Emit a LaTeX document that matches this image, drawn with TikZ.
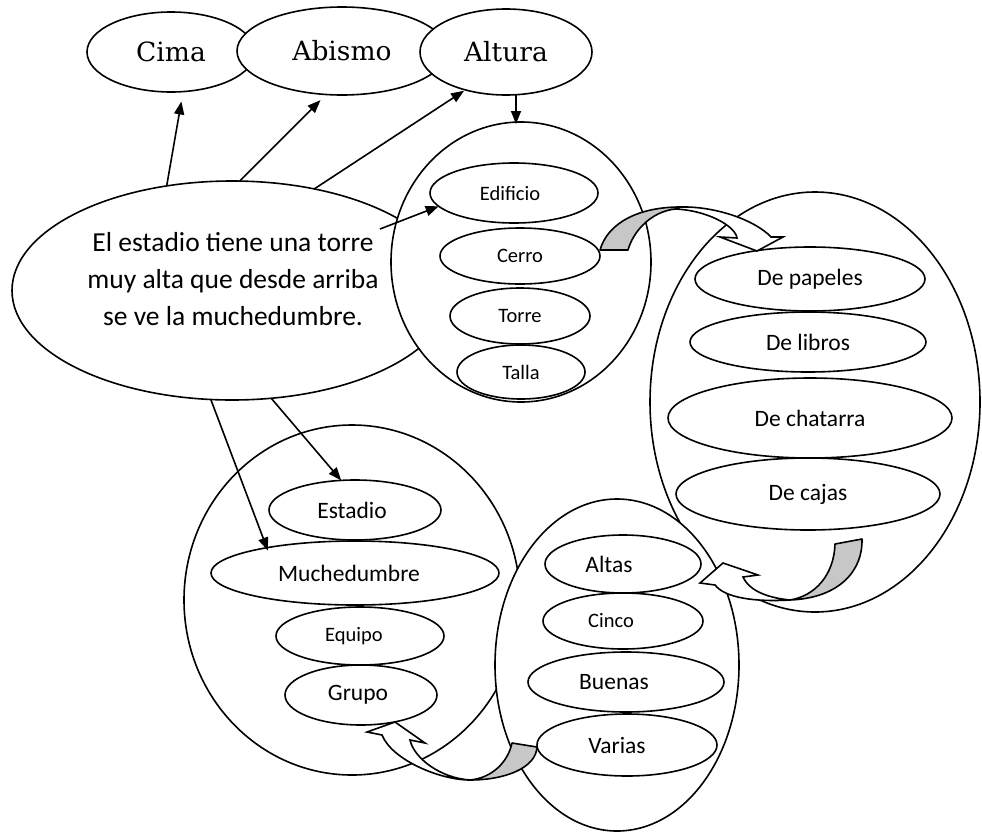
\documentclass[tikz,border=0pt]{standalone}
\usepackage{fontspec}
\setmainfont{Carlito}
\newfontfamily\titlefont{DejaVu Serif}
\usetikzlibrary{shapes.geometric,arrows.meta}
% shift a label to the left inside its oval by #1
\newcommand{\leftby}[1]{\hspace*{-2\dimexpr#1\relax}}
\begin{document}
\begin{tikzpicture}[x=1pt,y=-1pt,
  every node/.style={inner sep=0pt,outer sep=0pt},
  oval/.style={ellipse,draw,fill=white,line width=1.6pt},
  word/.style={oval,font=\titlefont\fontsize{26.5}{30}\selectfont},
  sm/.style={oval,font=\fontsize{20.5}{24}\selectfont},
  md/.style={oval,font=\fontsize{23.5}{27}\selectfont},
  sentence/.style={oval},
  sentencetext/.style={align=center,font=\fontsize{27.5}{36.7}\selectfont},
  group/.style={ellipse,draw,fill=white,line width=1.6pt},
  link/.style={-{Triangle[length=13pt,width=10pt]},line width=1.6pt},
  backface/.style={fill=black!22,draw,line width=1.6pt,line join=round},
  frontface/.style={fill=white,draw,line width=1.6pt,line join=miter}]
\useasboundingbox (0,0) rectangle (982,833);

% words at the top
\node[word,minimum width=168pt,minimum height=80pt] (cima) at (171,52) {Cima};
\node[word,minimum width=210pt,minimum height=88pt] (abismo) at (342,51) {Abismo};
\node[word,minimum width=172pt,minimum height=86pt] (altura) at (506,52) {Altura};

% the sentence
\node[sentence,minimum width=440pt,minimum height=219pt] (frase) at (232,290.5) {};
\node[sentencetext] (frasetexto) at (233,279)
  {El estadio tiene una torre\\muy alta que desde arriba\\se ve la muchedumbre.};

% group 1
\node[group,minimum width=260pt,minimum height=280pt] (g1) at (521,262) {};
\node[sm,minimum width=168pt,minimum height=60pt] (edificio) at (514,193) {\leftby{4pt}Edificio};
\node[sm,minimum width=160pt,minimum height=56pt] (cerro) at (520,256) {Cerro};
\node[sm,minimum width=140pt,minimum height=56pt] (torre) at (520,316) {Torre};
\node[sm,minimum width=128pt,minimum height=54pt] (talla) at (521,372) {Talla};

% group 2
\node[group,minimum width=330pt,minimum height=420pt] (g2) at (815,402) {};
\node[md,minimum width=230pt,minimum height=64pt] (papeles) at (810,279) {De papeles};
\node[md,minimum width=236pt,minimum height=60pt] (libros) at (808,342) {De libros};
\node[md,minimum width=284pt,minimum height=80pt] (chatarra) at (810,418) {De chatarra};
\node[md,minimum width=264pt,minimum height=72pt] (cajas) at (808,494) {De cajas};

% group 3
\node[group,minimum width=336pt,minimum height=350pt] (g3) at (352,600) {};
\node[md,minimum width=172pt,minimum height=60pt] (estadio) at (355,510) {\leftby{3pt}Estadio};
\node[md,minimum width=288pt,minimum height=64pt] (muchedumbre) at (355,573) {\leftby{6pt}Muchedumbre};
\node[sm,minimum width=168pt,minimum height=58pt] (equipo) at (360,636) {\leftby{6pt}Equipo};
\node[md,minimum width=152pt,minimum height=60pt] (grupo) at (361,695) {\leftby{3pt}Grupo};

% group 4
\node[group,minimum width=244pt,minimum height=332pt] (g4) at (617,665) {};
\node[md,minimum width=156pt,minimum height=58pt] (altas) at (623,564) {\leftby{14pt}Altas};
\node[sm,minimum width=160pt,minimum height=56pt] (cinco) at (623,621) {\leftby{12pt}Cinco};
\node[md,minimum width=196pt,minimum height=60pt] (buenas) at (626,682) {\leftby{12pt}Buenas};
\node[md,minimum width=180pt,minimum height=62pt] (varias) at (627,745) {\leftby{10pt}Varias};

% straight links
\coordinate (inicio) at (380,229);
\draw[link,shorten >=10pt] (frase.122) -- (cima.-73);
\draw[link,shorten >=8pt] (frase.86) -- (abismo.-110);
\draw[link,shorten >=1.5pt] (frase.51) -- (altura.-137);
\draw[link] ([xshift=10pt]altura.south) -- ([xshift=10pt,yshift=-2pt]altura.south |- g1.north);
\draw[link] (inicio) -- (edificio.190);
\draw[link] (frase.290) -- (estadio.115);
\draw[link,shorten >=-3pt] (frase.259.6) -- (muchedumbre.164);

% curved block arrows
\draw[frontface] (680,207) .. controls (715,206) and (755,220) .. (771,237)
  -- (783,237) -- (757,251) -- (720,237) -- (737,238)
  .. controls (735,225) and (705,210) .. (675,209) -- cycle;
\draw[backface] (600,250) -- (628,250) .. controls (633,232) and (650,212) .. (675,209)
  -- (680,207) .. controls (640,207) and (608,222) .. (600,250) -- cycle;

\draw[frontface] (790,600) .. controls (755,602) and (725,598) .. (715,585)
  -- (700,583) -- (723,563) -- (758,575) -- (743,577)
  .. controls (750,592) and (770,598) .. (790,600) -- cycle;
\draw[backface] (835,544) -- (862,539) .. controls (863,570) and (840,598) .. (790,600)
  .. controls (815,596) and (834,575) .. (835,544) -- cycle;

\draw[frontface] (470,780) .. controls (440,780) and (392,760) .. (382,735)
  -- (367,732) -- (395,722) -- (425,743) -- (410,740)
  .. controls (414,758) and (440,778) .. (470,780) -- cycle;
\draw[backface] (512,743) -- (537,747) .. controls (536,768) and (505,780) .. (470,780)
  .. controls (492,778) and (508,762) .. (512,743) -- cycle;
\end{tikzpicture}
\end{document}
